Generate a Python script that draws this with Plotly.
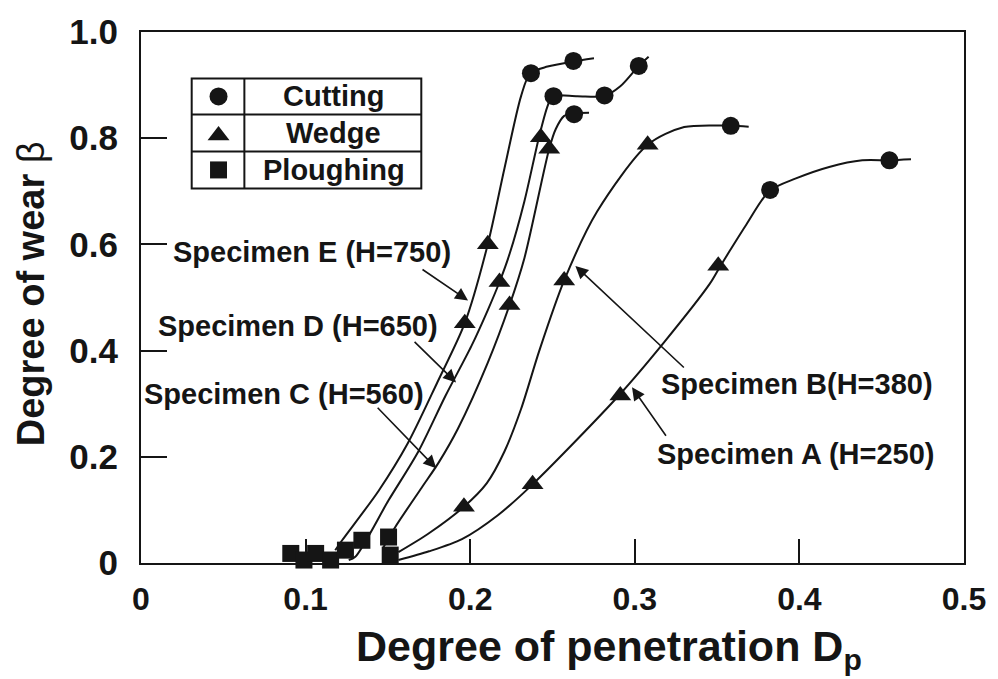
import plotly.graph_objects as go

# ---------------- data ----------------
# Curves (smooth lines) for each specimen
E_x = [0.118, 0.1222, 0.1443, 0.1620, 0.1800, 0.1967, 0.2107, 0.2208, 0.2309, 0.2365, 0.2470, 0.2621, 0.2752]
E_y = [0.024, 0.0428, 0.1357, 0.2250, 0.3400, 0.4517, 0.6004, 0.7429, 0.8792, 0.9225, 0.9349, 0.9442, 0.9504]

D_x = [0.1262, 0.1302, 0.1504, 0.1685, 0.1850, 0.2007, 0.2107, 0.2178, 0.2239, 0.2329, 0.2420, 0.2470, 0.2500, 0.2651, 0.2812, 0.2912, 0.3024, 0.3084]
D_y = [0.0056, 0.0117, 0.1180, 0.2100, 0.3150, 0.4084, 0.4764, 0.5292, 0.5818, 0.6809, 0.8048, 0.8606, 0.8792, 0.8792, 0.8792, 0.8978, 0.9362, 0.9535]

C_x = [0.1470, 0.1544, 0.1705, 0.1810, 0.1926, 0.2107, 0.2239, 0.2330, 0.2480, 0.2520, 0.2571, 0.2631, 0.2722]
C_y = [0.0280, 0.0675, 0.1418, 0.1900, 0.2533, 0.3773, 0.4857, 0.5750, 0.7801, 0.8173, 0.8420, 0.8470, 0.8481]

B_x = [0.1564, 0.1745, 0.1962, 0.2100, 0.2208, 0.2309, 0.2420, 0.2571, 0.2772, 0.3078, 0.3300, 0.3583, 0.3692]
B_y = [0.0204, 0.0550, 0.1060, 0.1500, 0.2100, 0.2900, 0.4000, 0.5322, 0.6623, 0.7875, 0.8210, 0.8234, 0.8216]

A_x = [0.1564, 0.1750, 0.1950, 0.2168, 0.2379, 0.2903, 0.3175, 0.3456, 0.3516, 0.3577, 0.3678, 0.3818, 0.3979, 0.4181, 0.4382, 0.4547, 0.4678]
A_y = [0.0056, 0.0220, 0.0450, 0.0900, 0.1481, 0.3154, 0.4145, 0.5260, 0.5571, 0.5879, 0.6375, 0.7007, 0.7243, 0.7459, 0.7584, 0.7584, 0.7602]

# Marker points by wear mode
cutting_x = [0.2369, 0.2627, 0.2506, 0.2816, 0.3024, 0.2631, 0.3583, 0.3822, 0.4547]
cutting_y = [0.9225, 0.9455, 0.8792, 0.8805, 0.9362, 0.8452, 0.8234, 0.7026, 0.7584]

wedge_x = [0.2429, 0.2480, 0.3078, 0.3507, 0.2571, 0.2178, 0.2107, 0.1967, 0.2239, 0.1962, 0.2379, 0.2912]
wedge_y = [0.8017, 0.7801, 0.7875, 0.5600, 0.5322, 0.5292, 0.6004, 0.4517, 0.4857, 0.1060, 0.1481, 0.3154]

plough_x = [0.0910, 0.0990, 0.1061, 0.1152, 0.1242, 0.1342, 0.1504, 0.1514]
plough_y = [0.0180, 0.0056, 0.0180, 0.0056, 0.0242, 0.0428, 0.0489, 0.0149]

x_tickvals = [0, 0.1, 0.2, 0.3, 0.4, 0.5]
x_ticktext = ["0", "0.1", "0.2", "0.3", "0.4", "0.5"]
y_tickvals = [0, 0.2, 0.4, 0.6, 0.8, 1.0]
y_ticktext = ["0", "0.2", "0.4", "0.6", "0.8", "1.0"]

legend_names = ["Cutting", "Wedge", "Ploughing"]
legend_symbols = ["circle", "triangle-up", "square"]

specimens = [
    ("Specimen E (H=750)", E_x, E_y),
    ("Specimen D (H=650)", D_x, D_y),
    ("Specimen C (H=560)", C_x, C_y),
    ("Specimen B(H=380)", B_x, B_y),
    ("Specimen A (H=250)", A_x, A_y),
]

# ---------------- layout geometry (pixels) ----------------
W, H = 998, 679
L, R, T, Bm = 141, 29, 25, 116
PW, PH = W - L - R, H - T - Bm
X_RANGE = [0, 0.5]
Y_RANGE = [0, 1]
INK = "#151515"
FONT = "Liberation Sans, Arial, Helvetica, sans-serif"


def pxx(x):
    return (x - L) / PW


def pxy(y):
    return (H - Bm - y) / PH


fig = go.Figure()

for name, xs, ys in specimens:
    fig.add_trace(go.Scatter(x=xs, y=ys, mode="lines", name=name,
                             line=dict(color=INK, width=2, shape="spline", smoothing=0.8),
                             showlegend=False, hoverinfo="skip"))

fig.add_trace(go.Scatter(x=cutting_x, y=cutting_y, mode="markers", name="Cutting",
                         marker=dict(symbol="circle", size=18, color=INK), cliponaxis=False, showlegend=False))
fig.add_trace(go.Scatter(x=wedge_x, y=wedge_y, mode="markers", name="Wedge",
                         marker=dict(symbol="triangle-up", size=19, color=INK), cliponaxis=False, showlegend=False))
fig.add_trace(go.Scatter(x=plough_x, y=plough_y, mode="markers", name="Ploughing",
                         marker=dict(symbol="square", size=17, color=INK), cliponaxis=False, showlegend=False))

# ---------------- legend table (drawn by hand) ----------------
lx0, lx1, ldiv = 192, 423, 245
ly = [72, 108.5, 146, 183.5]
shapes = [dict(type="rect", xref="paper", yref="paper", x0=pxx(lx0), x1=pxx(lx1), y0=pxy(ly[3]), y1=pxy(ly[0]),
               line=dict(color=INK, width=2), fillcolor="rgba(0,0,0,0)")]
shapes.append(dict(type="line", xref="paper", yref="paper", x0=pxx(ldiv), x1=pxx(ldiv), y0=pxy(ly[3]), y1=pxy(ly[0]),
                   line=dict(color=INK, width=2)))
for yy in ly[1:3]:
    shapes.append(dict(type="line", xref="paper", yref="paper", x0=pxx(lx0), x1=pxx(lx1), y0=pxy(yy), y1=pxy(yy),
                       line=dict(color=INK, width=2)))

row_centers = [(ly[i] + ly[i + 1]) / 2 for i in range(3)]
sym_sizes = [18, 19, 17]
sym_offs = [0, 2.5, 0]
for sym, sz, c, o, nm in zip(legend_symbols, sym_sizes, row_centers, sym_offs, legend_names):
    fig.add_trace(go.Scatter(
        x=[X_RANGE[0] + pxx(219) * (X_RANGE[1] - X_RANGE[0])],
        y=[Y_RANGE[0] + pxy(c + o) * (Y_RANGE[1] - Y_RANGE[0])],
        mode="markers", name=nm + " key",
        marker=dict(symbol=sym, size=sz, color=INK, opacity=1, line=dict(width=0)),
        cliponaxis=False, showlegend=False, hoverinfo="skip"))

annotations = []
for name, c in zip(legend_names, row_centers):
    annotations.append(dict(xref="paper", yref="paper", x=pxx((ldiv + lx1) / 2 + 1), y=pxy(c), text=name,
                            showarrow=False, xanchor="center", yanchor="middle",
                            font=dict(family=FONT, size=29, color=INK, weight="bold")))

# ---------------- specimen labels and arrows ----------------
label_pos = {
    "Specimen E (H=750)": (313, 248),
    "Specimen D (H=650)": (299, 323),
    "Specimen C (H=560)": (285, 392),
    "Specimen B(H=380)": (801, 382),
    "Specimen A (H=250)": (799, 453),
}
for name, (cx, cy) in label_pos.items():
    annotations.append(dict(xref="paper", yref="paper", x=pxx(cx), y=pxy(cy), text=name, showarrow=False,
                            xanchor="center", yanchor="middle",
                            font=dict(family=FONT, size=29, color=INK, weight="bold")))

# arrows: tip (px) and tail (px)
arrows = [((470, 297), (423, 265)),
          ((458, 380), (415, 338)),
          ((438, 467), (378, 405)),
          ((578, 262), (688, 365)),
          ((635, 385), (670, 435))]
for (tx, ty), (sx, sy) in arrows:
    annotations.append(dict(xref="paper", yref="paper", x=pxx(tx), y=pxy(ty), ax=sx - tx, ay=sy - ty,
                            axref="pixel", ayref="pixel", text="", showarrow=True,
                            arrowhead=2, arrowsize=1.6, arrowwidth=1.6, arrowcolor=INK))

# ---------------- axis titles ----------------
annotations.append(dict(xref="paper", yref="paper", x=pxx(30), y=pxy(290), textangle=-90,
                        text="<b>Degree of wear</b> β", showarrow=False, xanchor="center", yanchor="middle",
                        font=dict(family=FONT, size=38, color=INK)))
annotations.append(dict(xref="paper", yref="paper", x=pxx(612), y=pxy(650),
                        text="<b>Degree of penetration D<sub>p</sub></b>", showarrow=False,
                        xanchor="center", yanchor="middle",
                        font=dict(family=FONT, size=43, color=INK)))

axis_common = dict(showgrid=False, zeroline=False, showline=True, mirror=True, linewidth=2, linecolor=INK,
                   ticks="inside", tickwidth=2, tickcolor=INK)

fig.update_layout(
    width=W, height=H,
    margin=dict(l=L, r=R, t=T, b=Bm),
    paper_bgcolor="white", plot_bgcolor="white",
    font=dict(family=FONT, color=INK),
    xaxis=dict(range=X_RANGE, tickvals=x_tickvals, ticktext=x_ticktext, ticklen=24,
               tickfont=dict(family=FONT, size=32, color=INK, weight="bold"), ticklabelstandoff=7,
               **axis_common),
    yaxis=dict(range=Y_RANGE, tickvals=y_tickvals, ticktext=y_ticktext, ticklen=26,
               tickfont=dict(family=FONT, size=35, color=INK, weight="bold"), ticklabelstandoff=14,
               **axis_common),
    shapes=shapes,
    annotations=annotations,
    showlegend=False,
)

fig.write_html("out.html")
